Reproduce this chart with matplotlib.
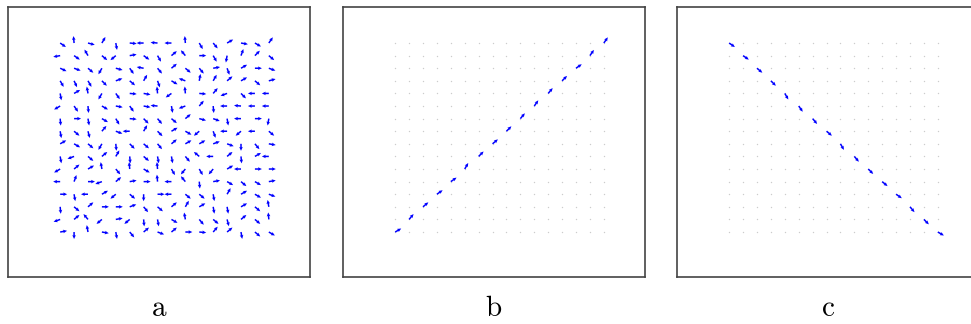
import numpy as np
import matplotlib
matplotlib.use("Agg")
import matplotlib.pyplot as plt

plt.rcParams['mathtext.fontset'] = 'cm'

# ---- data ----
n = 16
panel_labels = ["a", "b", "c"]

# panel a: arrow directions (degrees, screen, CCW from +x), rows top -> bottom
angles_a = [
    [-35, 95, -15, 60, -80, -5, 180, 175, 180, 95, -60, -50, 30, -10, -30, 55],
    [190, -35, 120, -40, 220, 10, -35, -60, 40, 130, 0, -60, 260, 70, 45, -40],
    [-25, -20, -40, 240, -15, -55, 170, -50, 40, -40, -50, 10, -70, 30, 0, -20],
    [-60, -65, -60, -45, 20, -40, 60, -70, -30, 160, 80, 60, 40, 30, -40, 15],
    [-80, 30, 100, 240, -55, -5, -10, 95, 215, 95, -5, 50, 200, -45, 180, 180],
    [210, -55, -85, -30, -10, -55, -10, 175, -80, 200, 50, -85, 180, 175, 180, 180],
    [-85, 0, -80, -30, -60, -5, -45, -50, -40, 40, -15, -20, -80, 180, 0, -100],
    [-80, -40, -75, 50, -20, 180, 60, -45, 30, -30, 220, -70, 180, 220, 180, -40],
    [30, -30, -40, 240, -85, -45, -40, -50, 40, 30, 30, 20, -20, -90, -50, -10],
    [-80, 200, -40, 40, 60, -85, -40, -80, -80, -50, 140, 180, 40, -85, 30, 180],
    [210, 40, 30, 100, -50, 95, -30, 95, -60, 230, -60, 230, 30, 180, 0, 0],
    [180, 70, 0, 200, 40, 10, 0, 95, 180, 130, -85, 10, -30, -40, -30, 10],
    [0, -80, 180, 30, 220, -40, -90, 0, 180, -40, -40, -80, 60, 30, -30, -20],
    [-85, -40, 40, 0, 0, 20, -50, -40, 40, 60, 30, -80, -80, 30, -40, 100],
    [200, 40, 130, 220, 10, 220, -85, -80, -30, 100, -50, -40, -75, 40, -40, 95],
    [10, -90, 100, -10, -80, -50, 40, -20, 40, 0, -5, 50, 40, -80, -40, -30],
]

# panel b: arrows along the rising diagonal (from bottom-left), directions
angles_b = [30, 50, 40, 35, 35, 60, 45, 40, 45, 50, 55, 50, 45, 35, 55, 55]
# panel c: arrows along the falling diagonal (from top-left), directions
angles_c = [-35, -35, -40, -45, -60, -55, -50, -40, -60, -50, -45, -40, -35, -50, -45, -30]

# ---- figure ----
W, H = 971, 324
fig = plt.figure(figsize=(W / 100, H / 100), dpi=100)

ax_w, ax_h = 302 / W, 270 / H
bottom = (H - 277) / H
lefts = [8 / W, 343 / W, 677 / W]

xlim = (-3.75, 17.96)
ylim = (-3.57, 17.86)
arrow_len = 7.0  # pixels
qkw = dict(angles=None, scale_units='dots', scale=1, pivot='tail',
           color='#0000ff', width=0.005, headwidth=2.4, headlength=2.6,
           headaxislength=2.3, minlength=0)

cols, rows = np.meshgrid(np.arange(n), np.arange(n))
gx = cols
gy = (n - 1) - rows

axes = []
for i, l in enumerate(lefts):
    ax = fig.add_axes([l, bottom, ax_w, ax_h])
    ax.set_xlim(*xlim)
    ax.set_ylim(*ylim)
    ax.set_xticks([])
    ax.set_yticks([])
    for s in ax.spines.values():
        s.set_color('#444444')
        s.set_linewidth(1.2)
    axes.append(ax)

# panel a
A = np.array(angles_a, dtype=float)
ones = np.full(A.shape, arrow_len)
kw = dict(qkw)
kw['angles'] = A.ravel()
axes[0].quiver(gx.ravel(), gy.ravel(), ones.ravel(), np.zeros(A.size), **kw)

# panel b
ax = axes[1]
ax.scatter(gx.ravel(), gy.ravel(), s=1.0, color='#cccccc', marker='o', linewidths=0)
idx = np.arange(n)
kw = dict(qkw)
kw['angles'] = np.array(angles_b, dtype=float)
ax.quiver(idx, idx, np.full(n, arrow_len), np.zeros(n), **kw)

# panel c
ax = axes[2]
ax.scatter(gx.ravel(), gy.ravel(), s=1.0, color='#cccccc', marker='o', linewidths=0)
kw = dict(qkw)
kw['angles'] = np.array(angles_c, dtype=float)
ax.quiver(idx, (n - 1) - idx, np.full(n, arrow_len), np.zeros(n), **kw)

# labels
for l, lab in zip(lefts, panel_labels):
    fig.text(l + ax_w / 2, (H - 316) / H, r'$\mathrm{%s}$' % lab,
             ha='center', va='baseline', fontsize=21)

fig.savefig('out.png', dpi=100)
